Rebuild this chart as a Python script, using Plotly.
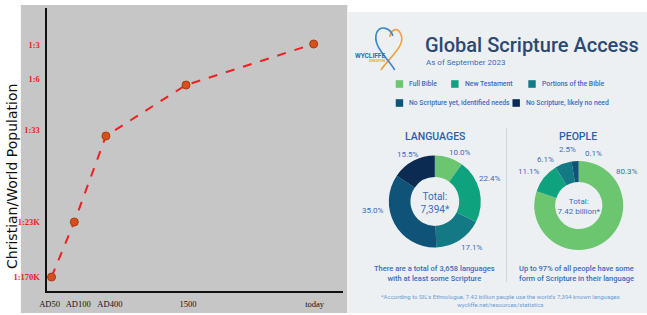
import plotly.graph_objects as go

W, H = 647, 315
def px(x): return x / W
def py(y): return 1 - y / H

# ---------------- Left chart data ----------------
eras = ["AD50", "AD100", "AD400", "1500", "today"]
era_pos = [5, 28, 60, 141, 270]            # schematic x scale
era_tick_pos = [3, 32, 64, 143, 271]
ratio_level = [14, 69, 155, 206, 247]       # schematic y scale
ratio_ticks = [14, 69, 161, 212, 246]
ratio_labels = ["1:170K", "1:23K", "1:33", "1:6", "1:3"]

# ---------------- Right infographic data ----------------
categories = ["Full Bible", "New Testament", "Portions of the Bible",
              "No Scripture yet, identified needs", "No Scripture, likely no need"]
cat_colors = ["#6cc56f", "#0ea37e", "#137a85", "#0f5378", "#0c2b52"]
languages_pct = [10.0, 22.4, 17.1, 35.0, 15.5]
people_pct = [80.3, 11.1, 6.1, 2.5, 0.1]
lang_total = "7,394*"
people_total = "7.42 billion*"

BLUE = "#3a6cc0"
NAVY = "#2b4a72"
FONT = "Roboto"

fig = go.Figure()

# line chart
fig.add_trace(go.Scatter(
    x=era_pos, y=ratio_level, mode="lines+markers",
    line=dict(color="#ee2020", width=2, dash="dash"),
    marker=dict(color="#d4501c", size=8, line=dict(color="#b03a10", width=1)),
    showlegend=False, hoverinfo="skip", xaxis="x", yaxis="y"))

# donuts
def donut(values, dom, total):
    return go.Pie(
        values=values, labels=categories, sort=False, direction="clockwise",
        rotation=0, hole=0.53, textinfo="none", showlegend=False,
        marker=dict(colors=cat_colors, line=dict(width=0)),
        domain=dict(x=[px(dom[0]), px(dom[1])], y=[py(dom[3]), py(dom[2])]),
        title=dict(text="Total:<br>" + total, position="middle center",
                   font=dict(family=FONT, size=10, color=BLUE)),
        hoverinfo="label+percent")

fig.add_trace(donut(languages_pct, (386, 479, 155, 248), lang_total))
fig.add_trace(donut(people_pct, (533, 623, 160.5, 250.5), people_total))

shapes = []
# panel backgrounds
shapes.append(dict(type="rect", xref="paper", yref="paper", x0=px(14), x1=px(344),
                   y0=py(313), y1=py(5), fillcolor="#c6c6c6", line_width=0, layer="below"))
shapes.append(dict(type="rect", xref="paper", yref="paper", x0=px(345), x1=1,
                   y0=py(313), y1=py(12), fillcolor="#edf0f2", line_width=0, layer="below"))
# divider
shapes.append(dict(type="line", xref="paper", yref="paper", x0=px(505), x1=px(505),
                   y0=py(282), y1=py(128), line=dict(color="#c9d7e6", width=1)))

# logo (heart strokes)
blue_path = ("M {} {} C {} {} {} {} {} {} C {} {} {} {} {} {}").format(
    px(392), py(70), px(385), py(58), px(368), py(45), px(374), py(32),
    px(378), py(25), px(388), py(28), px(390), py(36))
orange_path = ("M {} {} C {} {} {} {} {} {} C {} {} {} {} {} {}").format(
    px(378), py(70), px(386), py(58), px(404), py(45), px(398), py(34),
    px(395), py(27), px(388), py(29), px(387), py(37))
shapes.append(dict(type="path", xref="paper", yref="paper", path=orange_path,
                   line=dict(color="#f0a040", width=1.6)))
shapes.append(dict(type="path", xref="paper", yref="paper", path=blue_path,
                   line=dict(color="#3a86c8", width=1.6)))

annotations = []
def ann(x, y, text, size, color=BLUE, xanchor="center", weight=400, family=FONT, angle=0):
    annotations.append(dict(xref="paper", yref="paper", x=px(x), y=py(y), text=text,
                            showarrow=False, xanchor=xanchor, yanchor="middle",
                            textangle=angle,
                            font=dict(family=family, size=size, color=color, weight=weight)))

# y title of left chart
ann(5, 176, "Christian/World Population", 14, color="#111111",
    family="DejaVu Sans", angle=-90)

# logo text
ann(367, 56, "WYCLIFFE", 6.5, color="#2a6fb5", weight=700)
ann(375, 61.5, "SINGAPORE", 3, color="#f0a040", weight=700)

# header
ann(421, 45, "Global Scripture Access", 20, color=NAVY, xanchor="left", weight=500)
ann(422, 63, "As of September 2023", 8, color=BLUE, xanchor="left")

# legend
leg_sq = [(393, 84), (449, 84), (527, 84), (393, 103), (511, 103)]
for (lx, ly), name, col in zip(leg_sq, categories, cat_colors):
    shapes.append(dict(type="rect", xref="paper", yref="paper", x0=px(lx), x1=px(lx + 7.5),
                       y0=py(ly + 3.8), y1=py(ly - 3.8), fillcolor=col, line_width=0))
    ann(lx + 11.5, ly, name, 6.8, xanchor="left", weight=500)

# section headings
ann(433, 136, "LANGUAGES", 10.5, color="#2d5fa6", weight=500)
ann(577, 136, "PEOPLE", 10.5, color="#2d5fa6", weight=500)

# slice labels
lang_lbl_xy = [(458, 152), (488, 178), (470, 247), (370, 210), (405, 154)]
people_lbl_xy = [(627, 172), (528, 172), (544, 159), (567, 149), (593, 153)]
for v, (lx, ly) in zip(languages_pct, lang_lbl_xy):
    ann(lx, ly, f"{v:.1f}%", 8)
for v, (lx, ly) in zip(people_pct, people_lbl_xy):
    ann(lx, ly, f"{v:.1f}%", 8)

# captions
ann(432, 273.5, "There are a total of 3,658 languages<br>with at least some Scripture", 7.5,
    weight=500)
ann(576, 273.5, "Up to 97% of all people have some<br>form of Scripture in their language", 7.5,
    weight=500)
ann(499, 300.5, "*According to SIL's Ethnologue, 7.42 billion people use the world's 7,394 known languages"
    "<br>wycliffe.net/resources/statistics", 6, color="#6a9bd4")

fig.update_layout(
    width=W, height=H, margin=dict(l=0, r=0, t=0, b=0),
    paper_bgcolor="white", plot_bgcolor="#c6c6c6",
    shapes=shapes, annotations=annotations,
    xaxis=dict(domain=[px(40), px(340)], range=[0, 300], showgrid=False, zeroline=False,
               showline=True, linecolor="#111111", linewidth=2,
               tickmode="array", tickvals=era_tick_pos, ticktext=eras, ticks="",
               tickangle=0, ticklabelstandoff=4,
               tickfont=dict(family="Liberation Serif", size=8.5, color="#111111")),
    yaxis=dict(domain=[py(291), py(8)], range=[0, 283], showgrid=False, zeroline=False,
               showline=True, linecolor="#111111", linewidth=2,
               tickmode="array", tickvals=ratio_ticks, ticktext=ratio_labels, ticks="",
               ticklabelstandoff=3,
               tickfont=dict(family="Liberation Serif", size=8.5, color="#ee1c1c", weight=700)),
)

fig.write_html("out.html", post_script="document.body.style.margin='0';",
               config={"displayModeBar": False})
